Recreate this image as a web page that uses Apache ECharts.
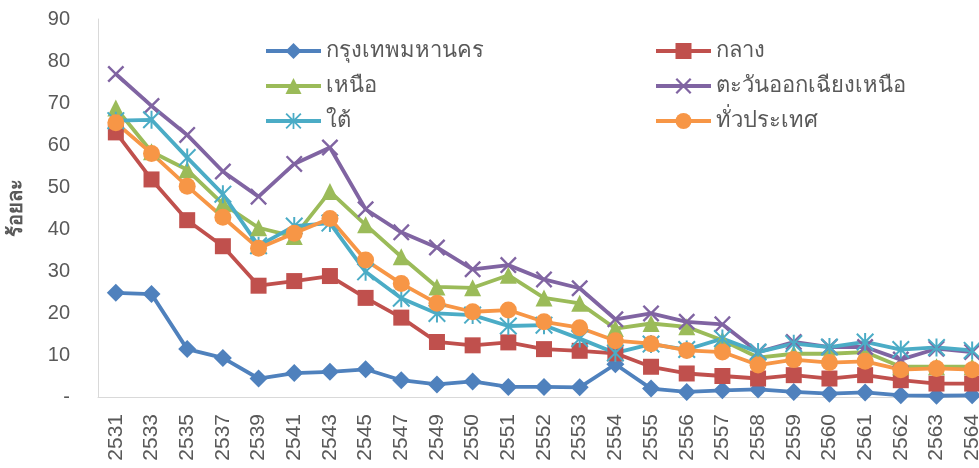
<!DOCTYPE html>
<html>
<head>
<meta charset="utf-8">
<script src="https://cdn.jsdelivr.net/npm/echarts@6/dist/echarts.min.js"></script>
<style>
html,body{margin:0;padding:0;background:#fff;}
#chart{width:979px;height:468px;}
</style>
</head>
<body>
<div id="chart"></div>
<script>
const categories = ['2531','2533','2535','2537','2539','2541','2543','2545','2547','2549','2550','2551','2552','2553','2554','2555','2556','2557','2558','2559','2560','2561','2562','2563','2564'];
const bangkok   = [24.8,24.5,11.4,9.3,4.4,5.7,6.0,6.6,4.0,3.0,3.7,2.4,2.4,2.3,7.8,2.0,1.2,1.6,1.8,1.2,0.8,1.1,0.4,0.3,0.4];
const central   = [63.0,51.8,42.1,35.9,26.5,27.6,28.8,23.6,18.9,13.1,12.3,13.0,11.4,11.0,10.4,7.2,5.6,5.0,4.4,5.2,4.4,5.2,4.0,3.2,3.2];
const north     = [68.8,58.4,54.1,46.0,40.3,38.2,48.9,41.0,33.4,26.2,26.0,29.0,23.6,22.3,16.3,17.5,16.7,13.5,9.4,10.3,10.3,10.7,7.2,7.2,7.2];
const northeast = [76.9,69.3,62.4,53.7,47.7,55.5,59.4,44.7,39.2,35.6,30.4,31.4,28.0,25.9,18.5,19.9,17.9,17.3,10.7,13.1,11.9,11.9,8.9,11.5,10.7];
const south     = [65.8,66.0,57.0,48.3,36.0,40.7,41.4,29.8,23.5,19.9,19.5,16.9,17.1,13.9,10.5,12.6,11.3,13.9,10.7,12.7,11.9,13.1,11.3,11.8,11.1];
const whole     = [65.3,58.0,50.2,42.8,35.4,39.0,42.5,32.6,27.0,22.3,20.3,20.7,17.9,16.5,13.4,12.7,11.1,10.7,7.6,8.9,8.2,8.5,6.5,6.8,6.5];
const seriesNames = ['กรุงเทพมหานคร','กลาง','เหนือ','ตะวันออกเฉียงเหนือ','ใต้','ทั่วประเทศ'];
const yTicks = [0,10,20,30,40,50,60,70,80,90];

const colors = ['#4F81BD','#C0504D','#9BBB59','#8064A2','#4BACC6','#F79646'];
const xPath = 'path://M0,1 L1,0 L5,4 L9,0 L10,1 L6,5 L10,9 L9,10 L5,6 L1,10 L0,9 L4,5 Z';
const starPath = 'path://M0,0.8 L0.8,0 L5,4.2 L9.2,0 L10,0.8 L5.8,5 L10,9.2 L9.2,10 L5,5.8 L0.8,10 L0,9.2 L4.2,5 Z M4.45,0 L5.55,0 L5.55,10 L4.45,10 Z';
const symbols = ['diamond','rect','triangle',xPath,starPath,'circle'];
const sizes = [18,16,17,17,18,17];
const datas = [bangkok,central,north,northeast,south,whole];

const FONT = '"Noto Sans", "DejaVu Sans", sans-serif';
const series = seriesNames.map((n,i)=>({
  name:n, type:'line', data:datas[i],
  symbol:symbols[i], symbolSize:sizes[i], showAllSymbol:true,
  lineStyle:{color:colors[i], width:3.8},
  itemStyle:{color:colors[i]},
  emphasis:{disabled:true},
  animation:false
}));

const chart = echarts.init(document.getElementById('chart'));
const legendCommon = {
  orient:'vertical', itemWidth:55, itemHeight:20, itemGap:13,
  lineStyle:{width:4},
  textStyle:{fontFamily:FONT, fontSize:22, color:'#595959'},
  selectedMode:false
};
chart.setOption({
  animation:false,
  color:colors,
  grid:{left:98, right:-11, top:19, bottom:71, containLabel:false, outerBoundsMode:'none'},
  legend:[
    Object.assign({left:259, top:35, data:[seriesNames[0],seriesNames[2],seriesNames[4]]}, legendCommon),
    Object.assign({left:649, top:35, data:[seriesNames[1],seriesNames[3],seriesNames[5]]}, legendCommon)
  ],
  xAxis:{
    type:'category', data:categories, boundaryGap:true,
    axisLine:{lineStyle:{color:'#D9D9D9', width:1}},
    axisTick:{show:false},
    axisLabel:{rotate:90, interval:0, margin:17, fontFamily:'"Liberation Sans", sans-serif', fontSize:21, color:'#595959'}
  },
  yAxis:{
    type:'value', min:0, max:90, interval:10,
    name:'ร้อยละ', nameLocation:'middle', nameRotate:90, nameGap:72,
    nameTextStyle:{fontFamily:FONT, fontSize:20, fontWeight:'bold', color:'#595959'},
    axisLine:{show:true, lineStyle:{color:'#D9D9D9', width:1}},
    axisTick:{show:false},
    splitLine:{show:false},
    axisLabel:{margin:28, fontFamily:'"Liberation Sans", sans-serif', fontSize:20, color:'#595959',
      formatter:v=> (yTicks.indexOf(v)===0 ? '-' : String(v))}
  },
  series:series
});
</script>
</body>
</html>
